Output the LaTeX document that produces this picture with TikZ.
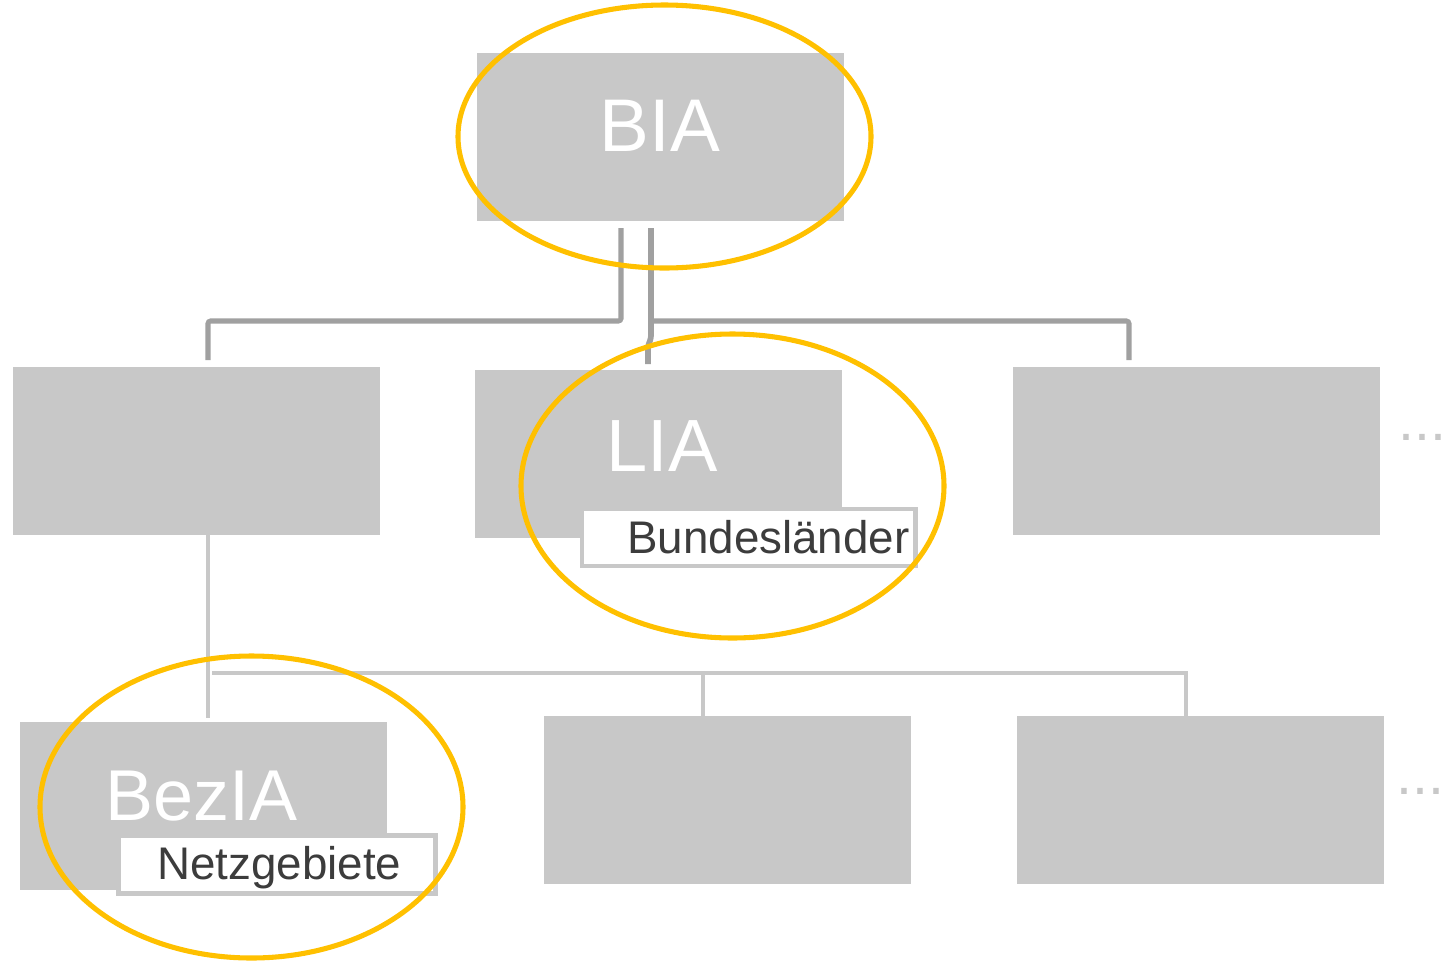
\documentclass[tikz,border=0pt]{standalone}
\usepackage{fontspec}
\setmainfont{Liberation Sans}
\definecolor{boxgray}{HTML}{C8C8C8}
\definecolor{linegray}{HTML}{A0A0A0}
\definecolor{ringcol}{HTML}{FFC000}
\definecolor{txtdark}{HTML}{3C3C3C}
\begin{document}
\begin{tikzpicture}[x=0.75pt,y=-0.75pt,
  unitbox/.style={fill=boxgray,draw=none,inner sep=0,minimum width=275.25pt,minimum height=126pt},
  bigtxt/.style={text=white,inner sep=0,anchor=base west},
  tagframe/.style={fill=boxgray,draw=none},
  tagtxt/.style={text=txtdark,inner sep=0,anchor=base west,font=\fontsize{34.3}{40}\selectfont},
  upline/.style={draw=linegray,line width=3.8pt,rounded corners=2pt},
  lowline/.style={draw=boxgray,line width=3pt},
  ring/.style={draw=ringcol,line width=3.8pt},
  dotstxt/.style={text=boxgray,inner sep=0,anchor=base west,font=\fontsize{43}{50}\selectfont}]
\useasboundingbox (0,0) rectangle (1447,961);
% boxes
\node[unitbox] (bia) at (660,137) {};
\node[unitbox] (b1) at (196.5,450.5) {};
\node[unitbox] (lia) at (658,453.5) {};
\node[unitbox] (b3) at (1196,450.5) {};
\node[unitbox] (bez) at (203.5,806) {};
\node[unitbox] (c2) at (727.5,800) {};
\node[unitbox] (c3) at (1200,800) {};
% upper connectors
\coordinate (s1) at (621,228);
\coordinate (s2) at (651,228);
\coordinate (t1) at (208,360);
\coordinate (t2) at (648,364);
\coordinate (t3) at (1129,360);
\draw[upline] (s1) |- (621,321) -| (t1);
\draw[upline,line width=4.3pt] (s2) -- (651,338) -- (648,346) -- (t2);
\draw[upline] (651,321) -| (t3);
% lower connectors
\coordinate (u1) at (208,718);
\coordinate (u2) at (703,716);
\coordinate (u3) at (1186,716);
\draw[lowline] (b1.south -| u1) -- (u1);
\draw[lowline] (212,673) -| (u3);
\draw[lowline] (703,673) -- (u2);
% texts
\node[bigtxt,font=\fontsize{56}{62}\selectfont] (tbia) at (599.5,151) {BIA};
\node[bigtxt,font=\fontsize{55.5}{62}\selectfont] (tlia) at (606.5,471) {LIA};
\node[bigtxt,font=\fontsize{54}{60}\selectfont] (tbez) at (105,820) {BezIA};
% tags
\fill[tagframe] (580,507) rectangle (918,568);
\fill[white] (584,511) rectangle (913,564);
\node[tagtxt] (tbund) at (627,553) {Bundesländer};
\fill[tagframe] (116,833) rectangle (438,896);
\fill[white] (121,838) rectangle (433,891);
\node[tagtxt] (tnetz) at (157,879) {Netzgebiete};
% dots
\node[dotstxt] (d1) at (1398,440) {...};
\node[dotstxt] (d2) at (1396,794) {...};
% rings
\draw[ring] (664.5,136.5) ellipse [x radius=206.5, y radius=131.5];
\draw[ring] (732.5,486) ellipse [x radius=211.5, y radius=152];
\draw[ring] (251.5,807) ellipse [x radius=211.5, y radius=151];
\end{tikzpicture}
\end{document}
